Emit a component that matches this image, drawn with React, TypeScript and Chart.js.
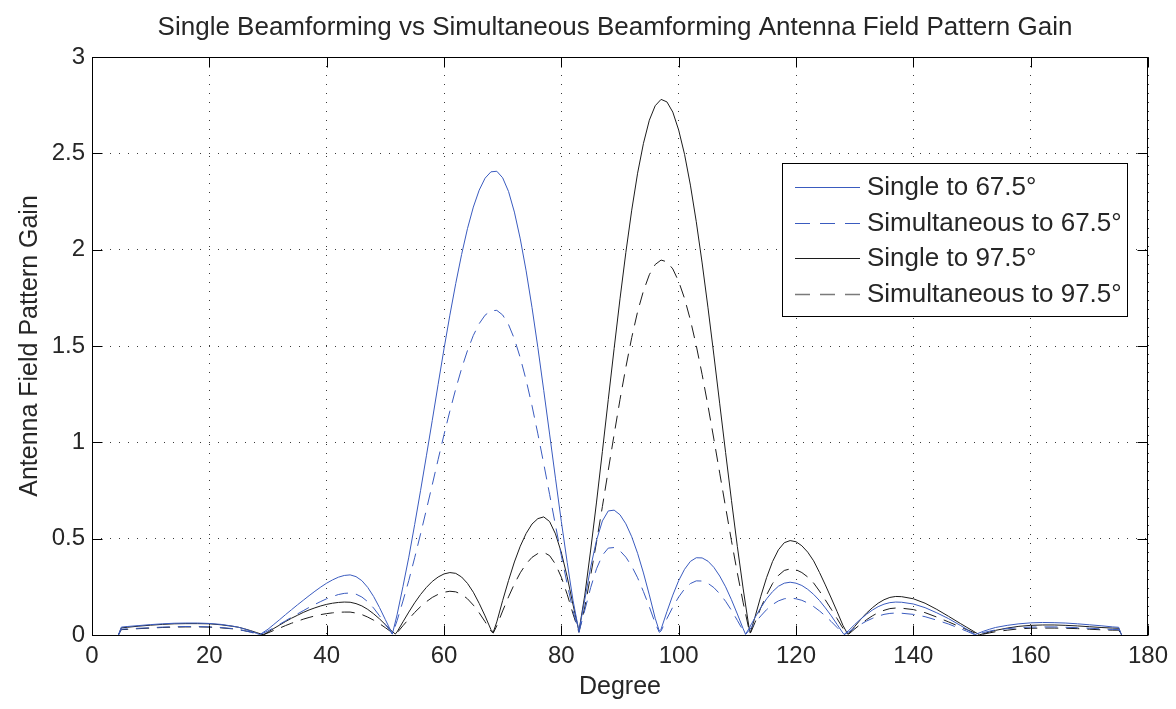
import React, { useEffect, useRef } from "react";
import { Chart, registerables } from "chart.js";

Chart.register(...registerables);

const chartTitle = "Single Beamforming vs Simultaneous Beamforming Antenna Field Pattern Gain";
const xAxisLabel = "Degree";
const yAxisLabel = "Antenna Field Pattern Gain";
const seriesNames = ["Single to 67.5°", "Simultaneous to 67.5°", "Single to 97.5°", "Simultaneous to 97.5°"];
const xRange = [0, 180];
const xStep = 20;
const yRange = [0, 3];
const yStep = 0.5;

// Beam steered to 67.5 degrees
const blueDegrees = [
  4.5, 5, 6, 8, 10, 12, 14, 16, 18, 20, 22, 24, 25, 26, 27, 28, 28.6,
  29, 30, 31, 32, 33, 34, 35, 36, 37, 38, 39, 40, 41, 42, 43, 44, 45, 46, 47, 48, 49, 50, 51, 51.2,
  52, 53, 54, 55, 56, 57, 58, 59, 60, 61, 62, 63, 64, 65, 66, 67, 68, 69, 70, 71, 72, 73, 74, 75, 76, 77, 78, 79, 80, 81, 82, 83,
  84, 85, 86, 87, 88, 89, 90, 91, 92, 93, 94, 95, 96, 96.7,
  97, 98, 99, 100, 101, 102, 103, 104, 105, 106, 107, 108, 109, 110, 111, 111.4,
  112, 113, 114, 115, 116, 117, 118, 119, 120, 121, 122, 123, 124, 125, 126, 127, 128, 128.2,
  129, 130, 131, 132, 133, 134, 135, 136, 137, 138, 140, 142, 144, 146, 148, 149, 150, 150.5,
  151, 152, 153, 154, 156, 158, 160, 162, 164, 166, 168, 170, 172, 174, 175, 175.5,
];
const singleTo67 = [
  0, 0.041, 0.044, 0.049, 0.054, 0.058, 0.061, 0.062, 0.062, 0.06, 0.055, 0.046, 0.04, 0.031, 0.021, 0.009, 0.002,
  0.01, 0.03, 0.055, 0.08, 0.106, 0.131, 0.156, 0.18, 0.204, 0.227, 0.249, 0.269, 0.286, 0.3, 0.309, 0.312, 0.303, 0.282, 0.247, 0.2, 0.143, 0.08, 0.018, 0.005,
  0.105, 0.251, 0.404, 0.573, 0.749, 0.93, 1.114, 1.301, 1.485, 1.66, 1.824, 1.975, 2.109, 2.221, 2.309, 2.371, 2.404, 2.407, 2.373, 2.302, 2.195, 2.056, 1.89, 1.7, 1.492, 1.27, 1.043, 0.814, 0.589, 0.377, 0.178, 0.02,
  0.184, 0.352, 0.492, 0.592, 0.644, 0.648, 0.624, 0.577, 0.51, 0.424, 0.322, 0.208, 0.087, 0.02,
  0.03, 0.121, 0.207, 0.282, 0.341, 0.382, 0.401, 0.4, 0.383, 0.351, 0.306, 0.25, 0.183, 0.109, 0.032, 0.004,
  0.034, 0.09, 0.142, 0.188, 0.225, 0.253, 0.269, 0.274, 0.269, 0.257, 0.237, 0.211, 0.179, 0.141, 0.1, 0.055, 0.01, 0.003,
  0.024, 0.054, 0.082, 0.107, 0.129, 0.147, 0.16, 0.168, 0.171, 0.17, 0.161, 0.142, 0.115, 0.085, 0.05, 0.032, 0.012, 0.002,
  0.008, 0.02, 0.03, 0.039, 0.05, 0.058, 0.063, 0.065, 0.064, 0.062, 0.058, 0.053, 0.048, 0.042, 0.04, 0,
];
const simultaneousTo67 = [
  0, 0.03, 0.032, 0.035, 0.038, 0.041, 0.043, 0.044, 0.044, 0.042, 0.039, 0.033, 0.028, 0.022, 0.015, 0.006, 0.001,
  0.007, 0.021, 0.038, 0.056, 0.074, 0.092, 0.109, 0.126, 0.143, 0.159, 0.174, 0.188, 0.2, 0.21, 0.216, 0.218, 0.212, 0.197, 0.173, 0.14, 0.1, 0.056, 0.013, 0.004,
  0.074, 0.176, 0.283, 0.401, 0.524, 0.651, 0.78, 0.911, 1.04, 1.162, 1.277, 1.383, 1.476, 1.555, 1.616, 1.66, 1.683, 1.685, 1.661, 1.611, 1.537, 1.439, 1.323, 1.19, 1.044, 0.889, 0.73, 0.57, 0.412, 0.264, 0.125, 0.014,
  0.129, 0.246, 0.344, 0.414, 0.451, 0.454, 0.437, 0.404, 0.357, 0.297, 0.225, 0.146, 0.061, 0.014,
  0.021, 0.085, 0.145, 0.197, 0.239, 0.267, 0.281, 0.28, 0.268, 0.246, 0.214, 0.175, 0.128, 0.076, 0.022, 0.003,
  0.024, 0.063, 0.099, 0.132, 0.158, 0.177, 0.188, 0.192, 0.188, 0.18, 0.166, 0.148, 0.125, 0.099, 0.07, 0.039, 0.007, 0.002,
  0.016, 0.036, 0.055, 0.072, 0.086, 0.098, 0.107, 0.112, 0.114, 0.113, 0.107, 0.095, 0.077, 0.057, 0.033, 0.021, 0.008, 0.001,
  0.005, 0.013, 0.02, 0.026, 0.033, 0.038, 0.041, 0.042, 0.042, 0.04, 0.038, 0.035, 0.032, 0.029, 0.028, 0,
];

// Beam steered to 97.5 degrees
const blackDegrees = [
  4.5, 5, 6, 8, 10, 12, 14, 16, 18, 20, 22, 24, 25, 26, 27, 28, 29, 29.2,
  30, 31, 32, 33, 34, 35, 36, 37, 38, 39, 40, 41, 42, 43, 44, 45, 46, 47, 48, 49, 50, 51, 51.7,
  52, 53, 54, 55, 56, 57, 58, 59, 60, 61, 62, 63, 64, 65, 66, 67, 68, 68.4,
  69, 70, 71, 72, 73, 74, 75, 76, 77, 78, 79, 80, 81, 82, 83,
  84, 85, 86, 87, 88, 89, 90, 91, 92, 93, 94, 95, 96, 97, 98, 99, 100, 101, 102, 103, 104, 105, 106, 107, 108, 109, 110, 111, 112, 112.2,
  113, 114, 115, 116, 117, 118, 119, 120, 121, 122, 123, 124, 125, 126, 127, 128, 128.8,
  129, 130, 131, 132, 133, 134, 135, 136, 137, 138, 140, 142, 144, 146, 148, 149, 150, 151, 151.3,
  152, 153, 154, 156, 158, 160, 162, 164, 166, 168, 170, 172, 174, 175, 175.5,
];
const singleTo97 = [
  0, 0.037, 0.04, 0.046, 0.051, 0.055, 0.058, 0.059, 0.059, 0.058, 0.053, 0.045, 0.04, 0.032, 0.023, 0.013, 0.003, 0.001,
  0.015, 0.034, 0.052, 0.07, 0.087, 0.102, 0.117, 0.13, 0.141, 0.151, 0.159, 0.165, 0.169, 0.171, 0.17, 0.163, 0.151, 0.133, 0.11, 0.084, 0.054, 0.023, 0.005,
  0.016, 0.068, 0.119, 0.167, 0.21, 0.247, 0.278, 0.301, 0.317, 0.324, 0.32, 0.301, 0.268, 0.222, 0.164, 0.099, 0.028, 0.015,
  0.068, 0.179, 0.283, 0.379, 0.461, 0.527, 0.576, 0.604, 0.613, 0.589, 0.525, 0.428, 0.302, 0.156, 0.02,
  0.207, 0.441, 0.69, 0.953, 1.222, 1.487, 1.745, 1.986, 2.205, 2.397, 2.552, 2.672, 2.747, 2.78, 2.767, 2.714, 2.621, 2.495, 2.335, 2.145, 1.931, 1.698, 1.453, 1.2, 0.947, 0.699, 0.46, 0.239, 0.037, 0.01,
  0.092, 0.201, 0.299, 0.381, 0.442, 0.479, 0.49, 0.484, 0.463, 0.43, 0.385, 0.325, 0.26, 0.192, 0.122, 0.05, 0.005,
  0.007, 0.044, 0.08, 0.113, 0.141, 0.165, 0.183, 0.195, 0.2, 0.199, 0.188, 0.165, 0.133, 0.097, 0.06, 0.042, 0.024, 0.006, 0.001,
  0.007, 0.016, 0.024, 0.036, 0.045, 0.05, 0.052, 0.052, 0.05, 0.047, 0.043, 0.039, 0.036, 0.035, 0,
];
const simultaneousTo97 = [
  0, 0.028, 0.029, 0.033, 0.036, 0.039, 0.041, 0.042, 0.042, 0.041, 0.037, 0.032, 0.028, 0.022, 0.016, 0.009, 0.002, 0.001,
  0.011, 0.024, 0.036, 0.049, 0.061, 0.071, 0.082, 0.091, 0.099, 0.106, 0.111, 0.115, 0.118, 0.119, 0.119, 0.114, 0.106, 0.093, 0.077, 0.059, 0.038, 0.016, 0.004,
  0.011, 0.048, 0.083, 0.117, 0.147, 0.173, 0.195, 0.211, 0.222, 0.227, 0.224, 0.211, 0.188, 0.155, 0.115, 0.069, 0.02, 0.01,
  0.048, 0.125, 0.198, 0.265, 0.323, 0.369, 0.403, 0.423, 0.429, 0.412, 0.368, 0.3, 0.211, 0.109, 0.014,
  0.145, 0.309, 0.483, 0.667, 0.855, 1.041, 1.222, 1.39, 1.544, 1.678, 1.786, 1.87, 1.923, 1.946, 1.937, 1.9, 1.835, 1.747, 1.635, 1.502, 1.352, 1.189, 1.017, 0.84, 0.663, 0.489, 0.322, 0.167, 0.026, 0.007,
  0.064, 0.141, 0.209, 0.267, 0.309, 0.335, 0.343, 0.339, 0.324, 0.301, 0.27, 0.228, 0.182, 0.134, 0.085, 0.035, 0.004,
  0.005, 0.031, 0.056, 0.079, 0.099, 0.116, 0.128, 0.137, 0.14, 0.139, 0.132, 0.116, 0.093, 0.068, 0.042, 0.029, 0.017, 0.004, 0.001,
  0.005, 0.011, 0.017, 0.025, 0.032, 0.035, 0.036, 0.036, 0.035, 0.033, 0.03, 0.027, 0.025, 0.025, 0,
];

const FONT = "'Liberation Sans', Arial, Helvetica, sans-serif";
const TEXT = "#262626";
const BLUE = "#3a5bbf";
const BLACK = "#1c1c1c";
const PLOT_DASH = [13, 8];
const LEGEND_DASH = [15, 10];

const toPoints = (xs: number[], ys: number[]) => xs.map((x, i) => ({ x, y: ys[i] }));

const framePlugin = {
  id: "matlabFrame",
  afterDatasetsDraw(chart: any) {
    const { ctx, chartArea, scales } = chart;
    const { left, right, top, bottom } = chartArea;
    const L = Math.round(left) + 0.5;
    const R = Math.round(right) - 0.5;
    const T = Math.round(top) + 0.5;
    const B = Math.round(bottom) + 0.5;
    ctx.save();
    ctx.setLineDash([]);
    ctx.strokeStyle = "#000";
    ctx.lineWidth = 1;
    ctx.strokeRect(L, T, R - L, B - T);
    const tickLen = 10;
    ctx.beginPath();
    for (let v = xRange[0]; v <= xRange[1]; v += xStep) {
      const px = Math.round(scales.x.getPixelForValue(v)) + 0.5;
      ctx.moveTo(px, B);
      ctx.lineTo(px, B - tickLen);
      ctx.moveTo(px, T);
      ctx.lineTo(px, T + tickLen);
    }
    for (let v = yRange[0]; v <= yRange[1] + 1e-9; v += yStep) {
      const py = Math.round(scales.y.getPixelForValue(v)) + 0.5;
      ctx.moveTo(L, py);
      ctx.lineTo(L + tickLen, py);
      ctx.moveTo(R, py);
      ctx.lineTo(R - tickLen, py);
    }
    ctx.stroke();
    ctx.restore();
  },
  afterDraw(chart: any) {
    const { ctx } = chart;
    ctx.save();
    // title
    ctx.fillStyle = TEXT;
    ctx.font = `26px ${FONT}`;
    ctx.textAlign = "center";
    ctx.textBaseline = "alphabetic";
    ctx.fillText(chartTitle, 615, 35);

    // legend
    const bx = 782.5, by = 163.5, bw = 345, bh = 153;
    ctx.fillStyle = "#fff";
    ctx.fillRect(bx, by, bw, bh);
    ctx.strokeStyle = "#000";
    ctx.lineWidth = 1;
    ctx.setLineDash([]);
    ctx.strokeRect(bx, by, bw, bh);
    const rows = [187, 223, 258, 294];
    const colors = [BLUE, BLUE, BLACK, "#7a7a7a"];
    const dashed = [false, true, false, true];
    ctx.font = `26px ${FONT}`;
    ctx.textAlign = "left";
    ctx.textBaseline = "middle";
    rows.forEach((ry, i) => {
      ctx.beginPath();
      ctx.strokeStyle = colors[i];
      ctx.lineWidth = dashed[i] && i === 3 ? 1.5 : 1;
      ctx.setLineDash(dashed[i] ? LEGEND_DASH : []);
      ctx.moveTo(795, ry + 0.5);
      ctx.lineTo(860, ry + 0.5);
      ctx.stroke();
      ctx.setLineDash([]);
      ctx.fillStyle = TEXT;
      ctx.fillText(seriesNames[i], 867, ry + 1);
    });
    ctx.restore();
  },
};

const formatTick = (value: any) => String(Math.round(Number(value) * 10) / 10);

export default function App() {
  const canvasRef = useRef<HTMLCanvasElement | null>(null);

  useEffect(() => {
    const canvas = canvasRef.current;
    if (!canvas) return;
    const tickFont = { family: FONT, size: 24 };
    const chart = new Chart(canvas, {
      type: "line",
      data: {
        datasets: [
          { label: seriesNames[0], data: toPoints(blueDegrees, singleTo67), borderColor: BLUE, borderWidth: 1 },
          { label: seriesNames[1], data: toPoints(blueDegrees, simultaneousTo67), borderColor: BLUE, borderWidth: 1, borderDash: PLOT_DASH },
          { label: seriesNames[2], data: toPoints(blackDegrees, singleTo97), borderColor: BLACK, borderWidth: 1 },
          { label: seriesNames[3], data: toPoints(blackDegrees, simultaneousTo97), borderColor: BLACK, borderWidth: 1, borderDash: PLOT_DASH },
        ],
      },
      options: {
        responsive: false,
        animation: false,
        devicePixelRatio: 1,
        parsing: false,
        layout: { padding: { left: 0, right: 28, top: 57, bottom: 0 } },
        elements: { point: { radius: 0, hoverRadius: 0 }, line: { tension: 0, fill: false } },
        plugins: { legend: { display: false }, title: { display: false }, tooltip: { enabled: false } },
        events: [],
        scales: {
          x: {
            type: "linear",
            min: xRange[0],
            max: xRange[1],
            ticks: { stepSize: xStep, font: tickFont, color: TEXT, padding: 7, maxRotation: 0, autoSkip: false, callback: formatTick },
            grid: { color: "#3a3a3a", lineWidth: 1, drawTicks: false },
            border: { display: false, dash: [1, 8] },
            title: { display: true, text: xAxisLabel, font: { family: FONT, size: 25 }, color: TEXT, padding: { top: 0, bottom: 7 } },
            afterFit: (s: any) => { s.height = 74; },
          },
          y: {
            type: "linear",
            min: yRange[0],
            max: yRange[1],
            ticks: { stepSize: yStep, font: tickFont, color: TEXT, padding: 7, callback: formatTick },
            grid: { color: "#3a3a3a", lineWidth: 1, drawTicks: false },
            border: { display: false, dash: [1, 8] },
            title: { display: true, text: yAxisLabel, font: { family: FONT, size: 25 }, color: TEXT, padding: { top: 15, bottom: 0 } },
            afterFit: (s: any) => { s.width = 92; },
          },
        },
      },
      plugins: [framePlugin],
    } as any);
    return () => chart.destroy();
  }, []);

  return (
    <div style={{ position: "absolute", left: 0, top: 0, width: 1176, height: 709, background: "#fff" }}>
      <canvas ref={canvasRef} width={1176} height={709} style={{ display: "block", width: 1176, height: 709 }} />
    </div>
  );
}
